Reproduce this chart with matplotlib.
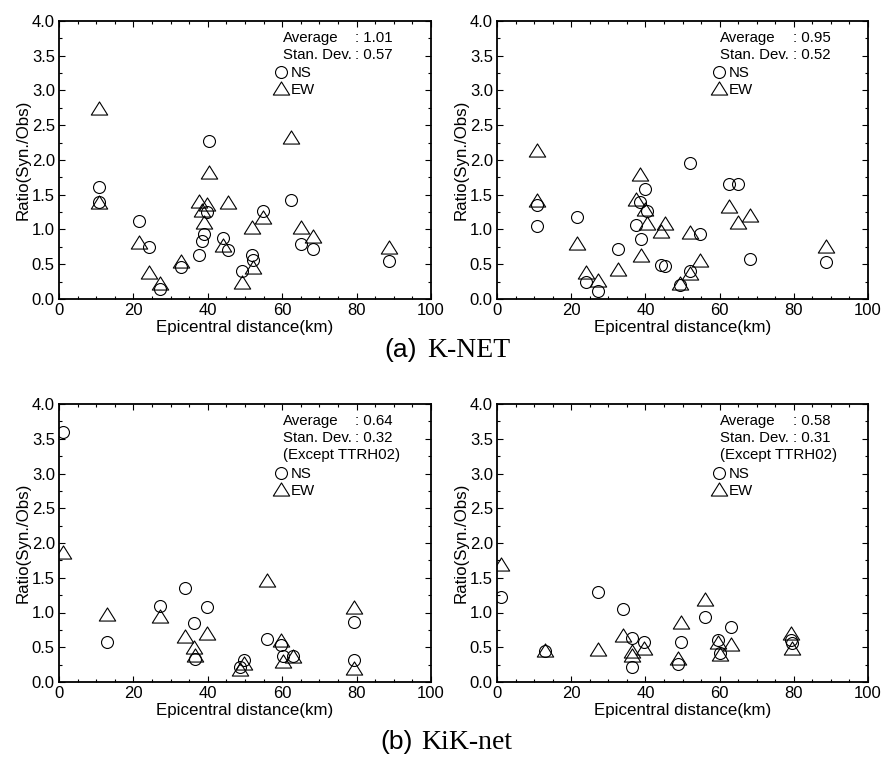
import numpy as np
import matplotlib
matplotlib.use("Agg")
import matplotlib.pyplot as plt
from matplotlib.path import Path
from matplotlib.lines import Line2D
from matplotlib.ticker import MultipleLocator, FormatStrFormatter

plt.rcParams['font.family'] = ['Liberation Sans', 'DejaVu Sans']

# ---- K-NET stations: epicentral distance (km) and Syn./Obs. ratios ----
knet_dist = [10.7, 10.7, 21.6, 24.1, 27.2, 32.7, 37.6, 38.5, 38.9, 39.8, 40.3,
             44.2, 45.4, 49.3, 51.9, 52.1, 54.8, 62.4, 65.0, 68.2, 88.7]
knet_left_ns = [1.61, 1.40, 1.12, 0.75, 0.14, 0.46, 0.63, 0.84, 0.93, 1.25, 2.28,
                0.88, 0.71, 0.41, 0.64, 0.56, 1.27, 1.42, 0.79, 0.72, 0.55]
knet_left_ew = [2.75, 1.40, 0.82, 0.39, 0.23, 0.54, 1.41, 1.28, 1.11, 1.37, 1.83,
                0.78, 1.39, 0.25, 1.03, 0.46, 1.18, 2.33, 1.03, 0.91, 0.75]
knet_right_ns = [1.35, 1.05, 1.18, 0.25, 0.11, 0.72, 1.06, 1.40, 0.86, 1.58, 1.27,
                 0.49, 0.48, 0.20, 1.96, 0.41, 0.94, 1.66, 1.66, 0.58, 0.53]
knet_right_ew = [2.14, 1.42, 0.80, 0.39, 0.27, 0.43, 1.44, 1.80, 0.63, 1.29, 1.09,
                 0.98, 1.10, 0.23, 0.96, 0.38, 0.56, 1.34, 1.11, 1.21, 0.76]

# ---- KiK-net stations (first one is TTRH02) ----
kik_dist = [1.0, 13.0, 27.2, 33.9, 36.4, 36.5, 39.7, 48.7, 49.6, 56.0, 59.7,
            60.1, 63.0, 79.2, 79.4]
kik_left_ns = [3.59, 0.58, 1.10, 1.35, 0.85, 0.33, 1.08, 0.22, 0.31, 0.62, 0.53,
               0.37, 0.38, 0.86, 0.31]
kik_left_ew = [1.87, 0.98, 0.95, 0.66, 0.50, 0.39, 0.70, 0.18, 0.28, 1.47, 0.60,
               0.30, 0.38, 1.08, 0.20]
kik_right_ns = [1.22, 0.44, 1.29, 1.05, 0.63, 0.22, 0.57, 0.26, 0.57, 0.93, 0.61,
                0.42, 0.79, 0.60, 0.56]
kik_right_ew = [1.70, 0.46, 0.48, 0.67, 0.44, 0.39, 0.49, 0.35, 0.86, 1.20, 0.58,
                0.40, 0.54, 0.70, 0.49]

stat_labels = ["Average", "Stan. Dev."]
knet_left_stats = ["1.01", "0.57"]
knet_right_stats = ["0.95", "0.52"]
kik_left_stats = ["0.64", "0.32"]
kik_right_stats = ["0.58", "0.31"]
except_note = "(Except TTRH02)"

# a triangle that is wider than it is tall
tri = Path([(0, 0.8), (-1, -0.8), (1, -0.8), (0, 0.8)],
           [Path.MOVETO, Path.LINETO, Path.LINETO, Path.CLOSEPOLY])

circ_kw = dict(linestyle='none', marker='o', markersize=8.6, markerfacecolor='none',
               markeredgecolor='black', markeredgewidth=0.8)
tri_kw = dict(linestyle='none', marker=tri, markersize=11.8, markerfacecolor='none',
              markeredgecolor='black', markeredgewidth=0.8)

fig = plt.figure(figsize=(8.83, 7.71), dpi=100)

W, H = 883, 771
def box(l, t, r, b):
    return [l / W, 1 - b / H, (r - l) / W, (b - t) / H]

panels = [
    (box(59, 21, 431, 299), knet_dist, knet_left_ns, knet_left_ew, knet_left_stats, False),
    (box(497, 21, 868, 299), knet_dist, knet_right_ns, knet_right_ew, knet_right_stats, False),
    (box(59, 404, 431, 682), kik_dist, kik_left_ns, kik_left_ew, kik_left_stats, True),
    (box(497, 404, 868, 682), kik_dist, kik_right_ns, kik_right_ew, kik_right_stats, True),
]

for rect, dist, ns, ew, stats, note in panels:
    ax = fig.add_axes(rect)
    ax.plot(dist, ew, **tri_kw)
    ax.plot(dist, ns, **circ_kw)
    ax.set_xlim(0, 100)
    ax.set_ylim(0, 4.0)
    ax.xaxis.set_major_locator(MultipleLocator(20))
    ax.xaxis.set_minor_locator(MultipleLocator(5))
    ax.yaxis.set_major_locator(MultipleLocator(0.5))
    ax.yaxis.set_minor_locator(MultipleLocator(0.25))
    ax.yaxis.set_major_formatter(FormatStrFormatter('%.1f'))
    ax.tick_params(which='both', direction='in', top=True, right=True,
                   labelsize=12, width=0.8)
    ax.tick_params(which='major', length=4, pad=3)
    ax.tick_params(which='minor', length=2.5)
    for s in ax.spines.values():
        s.set_linewidth(1.3)
    ax.set_xlabel("Epicentral distance(km)", fontsize=12.2, labelpad=1)
    ax.set_ylabel("Ratio(Syn./Obs)", fontsize=12.2, labelpad=1)

    fs = 10.8
    ax.text(0.602, 0.939, stat_labels[0], transform=ax.transAxes, fontsize=fs, va='center')
    ax.text(0.602, 0.878, stat_labels[1], transform=ax.transAxes, fontsize=fs, va='center')
    ax.text(0.797, 0.939, ": " + stats[0], transform=ax.transAxes, fontsize=fs, va='center')
    ax.text(0.797, 0.878, ": " + stats[1], transform=ax.transAxes, fontsize=fs, va='center')
    if note:
        ax.text(0.602, 0.815, except_note, transform=ax.transAxes, fontsize=fs, va='center')
        leg_top = 0.772
    else:
        leg_top = 0.837
    handles = [Line2D([], [], **circ_kw), Line2D([], [], **tri_kw)]
    ax.legend(handles, ["NS", "EW"], loc='upper left', bbox_to_anchor=(0.577, leg_top),
              frameon=False, fontsize=fs, handlelength=1.0, handletextpad=0.15,
              labelspacing=0.15, borderpad=0, borderaxespad=0)

# panel captions: label letter in sans, network name in serif
serif = ['Liberation Serif', 'DejaVu Serif']
fig.text(417 / W, 1 - 357 / H, "(a)", ha='right', va='baseline', fontsize=19)
fig.text(427 / W, 1 - 357 / H, "K-NET", ha='left', va='baseline', fontsize=20, family=serif)
fig.text(413 / W, 1 - 749 / H, "(b)", ha='right', va='baseline', fontsize=19)
fig.text(421 / W, 1 - 749 / H, "KiK-net", ha='left', va='baseline', fontsize=20, family=serif)

fig.savefig("out.png", dpi=100)
